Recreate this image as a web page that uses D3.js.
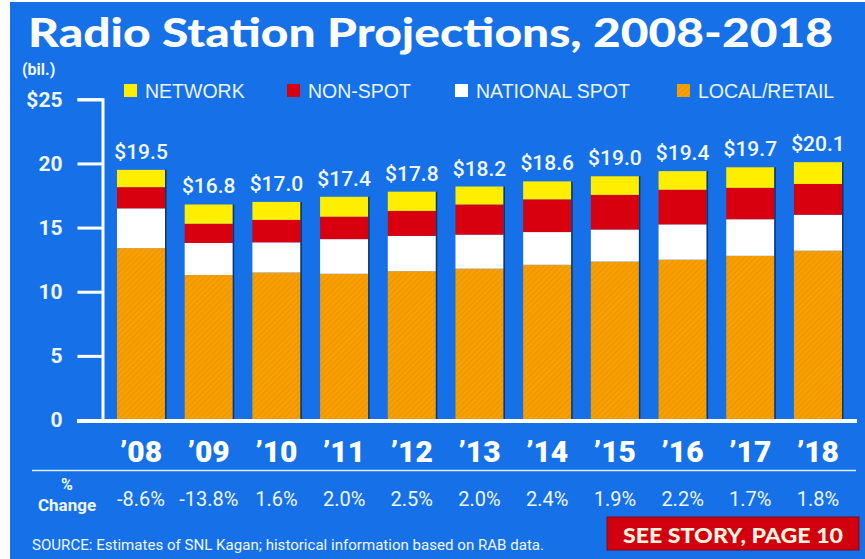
<!DOCTYPE html>
<html>
<head>
<meta charset="utf-8">
<script src="https://cdn.jsdelivr.net/npm/d3@7"></script>
<style>
  body { margin: 0; background: #fff; }
  svg { display: block; }
</style>
</head>
<body>
<script>
// data
var years = ['\u201908', '\u201909', '\u201910', '\u201911', '\u201912', '\u201913', '\u201914', '\u201915', '\u201916', '\u201917', '\u201918'];
var localRetail  = [13.4, 11.3, 11.5, 11.4, 11.6, 11.8, 12.1, 12.35, 12.5, 12.8, 13.2];
var nationalSpot = [3.1, 2.5, 2.35, 2.7, 2.75, 2.65, 2.55, 2.5, 2.75, 2.85, 2.8];
var nonSpot      = [1.65, 1.5, 1.75, 1.75, 1.95, 2.35, 2.55, 2.7, 2.7, 2.45, 2.4];
var network      = [1.35, 1.5, 1.4, 1.55, 1.5, 1.4, 1.4, 1.45, 1.45, 1.6, 1.7];
var totals = [19.5, 16.8, 17.0, 17.4, 17.8, 18.2, 18.6, 19.0, 19.4, 19.7, 20.1];
var pctChange = ['-8.6%', '-13.8%', '1.6%', '2.0%', '2.5%', '2.0%', '2.4%', '1.9%', '2.2%', '1.7%', '1.8%'];
var yTicks = [0, 5, 10, 15, 20, 25];
var legendNames = ['NETWORK', 'NON-SPOT', 'NATIONAL SPOT', 'LOCAL/RETAIL'];

var keys = ['local', 'national', 'nonspot', 'network'];
var colors = { local: 'url(#hatch)', national: '#ffffff', nonspot: '#d8000f', network: '#ffee00' };

var rows = years.map(function (yr, i) {
  return { year: yr, local: localRetail[i], national: nationalSpot[i], nonspot: nonSpot[i], network: network[i] };
});

var svg = d3.select('body').append('svg')
            .attr('width', 865)
            .attr('height', 559);

var defs = svg.append('defs');
var pat = defs.append('pattern')
              .attr('id', 'hatch')
              .attr('patternUnits', 'userSpaceOnUse')
              .attr('width', 4)
              .attr('height', 4)
              .attr('patternTransform', 'rotate(45)');
pat.append('rect').attr('width', 4).attr('height', 4).attr('fill', '#f7a000');
pat.append('line').attr('x1', 0).attr('y1', 0).attr('x2', 0).attr('y2', 4)
   .attr('stroke', '#e88e00').attr('stroke-width', 1.5);

// blue panel
svg.append('rect')
   .attr('x', 10).attr('y', 2)
   .attr('width', 855).attr('height', 557)
   .attr('fill', '#1671e8');

svg.append('text')
   .attr('x', 28).attr('y', 47)
   .attr('textLength', 805)
   .attr('lengthAdjust', 'spacingAndGlyphs')
   .style('font-family', 'Lato, "DejaVu Sans", sans-serif')
   .style('font-weight', 900)
   .style('font-size', '40px')
   .style('fill', '#ffffff')
   .text('Radio Station Projections, 2008-2018');

svg.append('text')
   .attr('x', 22).attr('y', 75)
   .style('font-family', 'Roboto, sans-serif')
   .style('font-weight', 700)
   .style('font-size', '16px')
   .style('fill', '#eef6ff')
   .text('(bil.)');

// legend
var legX = [124, 287, 455, 677];
var legColors = ['#ffee00', '#d8000f', '#ffffff', 'url(#hatch)'];
var leg = svg.append('g').selectAll('g')
             .data(legendNames)
             .join('g')
             .attr('transform', function (d, i) { return 'translate(' + legX[i] + ',84)'; });
leg.append('rect')
   .attr('width', 13).attr('height', 13)
   .attr('fill', function (d, i) { return legColors[i]; });
leg.append('text')
   .attr('x', 21).attr('y', 14)
   .style('font-family', '"Liberation Sans", Arial, sans-serif')
   .style('font-size', '19.5px')
   .style('fill', '#e8f4ff')
   .text(function (d) { return d; });

// scales
var x = d3.scaleBand()
          .domain(years)
          .range([117, 842])
          .paddingInner(0.29)
          .paddingOuter(0);

var y = d3.scaleLinear()
          .domain([0, 25])
          .range([420, 99.3]);

var series = d3.stack().keys(keys)(rows);

svg.append('g').selectAll('g')
   .data(series)
   .join('g')
   .attr('fill', function (d) { return colors[d.key]; })
   .selectAll('rect')
   .data(function (d) { return d; })
   .join('rect')
   .attr('x', function (d) { return x(d.data.year); })
   .attr('y', function (d) { return y(d[1]); })
   .attr('width', x.bandwidth())
   .attr('height', function (d) { return y(d[0]) - y(d[1]); });

// thin shadow on the right of each bar
svg.append('g').selectAll('line')
   .data(rows)
   .join('line')
   .attr('x1', function (d) { return x(d.year) + x.bandwidth() + 0.75; })
   .attr('x2', function (d) { return x(d.year) + x.bandwidth() + 0.75; })
   .attr('y1', function (d) { return y(d3.sum(keys, function (k) { return d[k]; })); })
   .attr('y2', y(0))
   .attr('stroke', '#12356a')
   .attr('stroke-width', 1.5);

// totals over the bars
svg.append('g').selectAll('text')
   .data(rows)
   .join('text')
   .attr('x', function (d) { return x(d.year) + x.bandwidth() / 2; })
   .attr('y', function (d) { return y(d3.sum(keys, function (k) { return d[k]; })) - 11; })
   .attr('text-anchor', 'middle')
   .style('font-family', 'Roboto, sans-serif')
   .style('font-weight', 500)
   .style('font-size', '21px')
   .style('fill', '#f2f8ff')
   .text(function (d, i) { return '$' + d3.format('.1f')(totals[i]); });

// y axis
var yAxis = d3.axisLeft(y)
              .tickValues(yTicks)
              .tickSize(25)
              .tickSizeOuter(25)
              .tickPadding(15)
              .tickFormat(function (d) { return d === 25 ? '$25' : d; });

var ya = svg.append('g')
            .attr('transform', 'translate(102.5,0)')
            .call(yAxis);
ya.select('.domain').attr('stroke', '#ffffff').attr('stroke-width', 3).attr('fill', 'none');
ya.selectAll('.tick line').attr('stroke', '#ffffff').attr('stroke-width', 3);
ya.selectAll('.tick text')
  .style('font-family', 'Roboto, sans-serif')
  .style('font-weight', 700)
  .style('font-size', '21px')
  .style('fill', '#eef6ff');

// baseline
svg.append('line')
   .attr('x1', 77).attr('x2', 857)
   .attr('y1', y(0) + 1).attr('y2', y(0) + 1)
   .attr('stroke', '#ffffff')
   .attr('stroke-width', 4);

// year labels
svg.append('g').selectAll('text')
   .data(years)
   .join('text')
   .attr('x', function (d) { return x(d) + x.bandwidth() / 2; })
   .attr('y', 462)
   .attr('text-anchor', 'middle')
   .style('font-family', 'Roboto, sans-serif')
   .style('font-weight', 900)
   .style('font-size', '30px')
   .style('fill', '#ffffff')
   .text(function (d) { return d; });

svg.append('line')
   .attr('x1', 32).attr('x2', 856)
   .attr('y1', 470.5).attr('y2', 470.5)
   .attr('stroke', '#dcecff')
   .attr('stroke-width', 1.5);

// % change row
svg.append('text')
   .attr('x', 67).attr('y', 490)
   .attr('text-anchor', 'middle')
   .style('font-family', 'Roboto, sans-serif')
   .style('font-weight', 700)
   .style('font-size', '16px')
   .style('fill', '#eef6ff')
   .text('%');
svg.append('text')
   .attr('x', 67).attr('y', 511)
   .attr('text-anchor', 'middle')
   .style('font-family', 'Roboto, sans-serif')
   .style('font-weight', 700)
   .style('font-size', '17px')
   .style('fill', '#eef6ff')
   .text('Change');

svg.append('g').selectAll('text')
   .data(pctChange)
   .join('text')
   .attr('x', function (d, i) { return x(years[i]) + x.bandwidth() / 2; })
   .attr('y', 506)
   .attr('text-anchor', 'middle')
   .style('font-family', 'Roboto, sans-serif')
   .style('font-size', '20px')
   .style('fill', '#eef6ff')
   .text(function (d) { return d; });

svg.append('text')
   .attr('x', 32).attr('y', 550)
   .attr('textLength', 512)
   .attr('lengthAdjust', 'spacingAndGlyphs')
   .style('font-family', 'Roboto, sans-serif')
   .style('font-size', '15px')
   .style('fill', '#eef6ff')
   .text('SOURCE: Estimates of SNL Kagan; historical information based on RAB data.');

// see story box
svg.append('rect')
   .attr('x', 607).attr('y', 517)
   .attr('width', 252).attr('height', 33)
   .attr('fill', '#d2000f')
   .attr('stroke', '#7a0a1a')
   .attr('stroke-width', 1);
svg.append('text')
   .attr('x', 733).attr('y', 543)
   .attr('text-anchor', 'middle')
   .attr('textLength', 220)
   .attr('lengthAdjust', 'spacingAndGlyphs')
   .style('font-family', 'Lato, sans-serif')
   .style('font-weight', 900)
   .style('font-size', '21px')
   .style('fill', '#fff3df')
   .text('SEE STORY, PAGE 10');
</script>
</body>
</html>
